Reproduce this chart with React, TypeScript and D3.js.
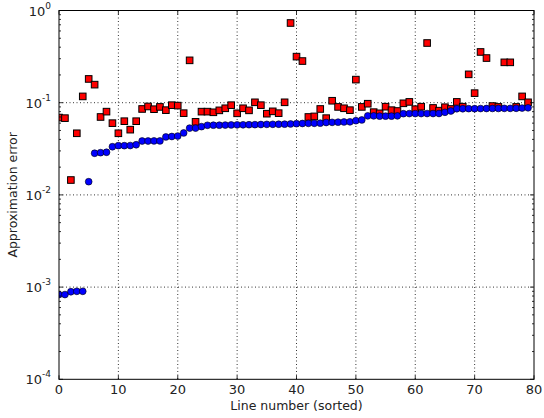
import React from "react";
import * as d3 from "d3";

const lineIndex: number[] = Array.from({ length: 80 }, (_, i) => i);

const sortedError: number[] = [
  0.00083, 0.00083, 0.00089, 0.0009, 0.0009, 0.0139, 0.0283, 0.0287, 0.029, 0.0333,
  0.0342, 0.0342, 0.0343, 0.035, 0.0384, 0.0384, 0.0385, 0.0385, 0.0425, 0.043,
  0.0435, 0.047, 0.053, 0.053, 0.055, 0.0569, 0.057, 0.057, 0.0572, 0.0574,
  0.0575, 0.0576, 0.0577, 0.0578, 0.058, 0.0582, 0.0583, 0.0584, 0.0585, 0.0588,
  0.0592, 0.0595, 0.0597, 0.0598, 0.06, 0.061, 0.0612, 0.0615, 0.0618, 0.062,
  0.0638, 0.065, 0.072, 0.072, 0.0715, 0.0715, 0.0715, 0.072, 0.076, 0.0762,
  0.0762, 0.0762, 0.0763, 0.0763, 0.0764, 0.0787, 0.0813, 0.086, 0.086, 0.0862,
  0.0862, 0.0864, 0.0865, 0.0866, 0.0866, 0.0868, 0.0868, 0.087, 0.0875, 0.088,
];

const otherError: number[] = [
  0.069, 0.068, 0.0145, 0.0466, 0.117, 0.181, 0.157, 0.07, 0.08, 0.06,
  0.0466, 0.063, 0.051, 0.063, 0.0855, 0.091, 0.085, 0.09, 0.083, 0.094,
  0.093, 0.077, 0.288, 0.062, 0.08, 0.08, 0.0787, 0.0826, 0.087, 0.094,
  0.0767, 0.087, 0.0826, 0.101, 0.094, 0.076, 0.0806, 0.077, 0.101, 0.732,
  0.316, 0.283, 0.07, 0.071, 0.0855, 0.068, 0.105, 0.09, 0.087, 0.083,
  0.178, 0.09, 0.0975, 0.079, 0.0767, 0.0905, 0.083, 0.0813, 0.0985, 0.102,
  0.085, 0.0905, 0.444, 0.0877, 0.082, 0.0893, 0.0855, 0.102, 0.0905, 0.203,
  0.127, 0.355, 0.305, 0.092, 0.09, 0.274, 0.274, 0.09, 0.117, 0.101,
];

const xTicks: number[] = [0, 10, 20, 30, 40, 50, 60, 70, 80];
const yTickExps: number[] = [-4, -3, -2, -1, 0];

const W = 544;
const H = 418;
const L = 59;
const R = 534;
const T = 10.5;
const B = 379.3;

export default function App() {
  const x = d3.scaleLinear().domain([0, 80]).range([L, R]);
  const y = d3.scaleLog().domain([1e-4, 1]).range([B, T]);
  const minor: number[] = [];
  for (let e = -4; e < 0; e++) {
    for (let m = 2; m <= 9; m++) minor.push(m * Math.pow(10, e));
  }
  const font = "DejaVu Sans, sans-serif";
  const sq = 6.6;
  return (
    <svg
      width={W}
      height={H}
      style={{ position: "absolute", left: 0, top: 0, background: "#fff" }}
      fontFamily={font}
    >
      <defs>
        <clipPath id="plot">
          <rect x={L} y={T} width={R - L} height={B - T} />
        </clipPath>
      </defs>
      <rect width={W} height={H} fill="#fff" />
      {/* grid */}
      <g stroke="#000" strokeWidth={0.8} strokeDasharray="1,2.5">
        {xTicks.slice(1, -1).map((t) => (
          <line key={"gx" + t} x1={x(t)} x2={x(t)} y1={T} y2={B} />
        ))}
        {yTickExps.slice(1, -1).map((e) => (
          <line key={"gy" + e} x1={L} x2={R} y1={y(Math.pow(10, e))} y2={y(Math.pow(10, e))} />
        ))}
      </g>
      {/* markers */}
      <g clipPath="url(#plot)">
        {lineIndex.map((i) => (
          <rect
            key={"r" + i}
            x={x(i) - sq / 2}
            y={y(otherError[i]) - sq / 2}
            width={sq}
            height={sq}
            fill="#ff0000"
            stroke="#000"
            strokeWidth={1}
          />
        ))}
        {lineIndex.map((i) => (
          <circle
            key={"b" + i}
            cx={x(i)}
            cy={y(sortedError[i])}
            r={3.4}
            fill="#0000ff"
            stroke="#000"
            strokeWidth={0.6}
          />
        ))}
      </g>
      {/* ticks */}
      <g stroke="#000" strokeWidth={0.8}>
        {xTicks.map((t) => (
          <g key={"tx" + t}>
            <line x1={x(t)} x2={x(t)} y1={B} y2={B - 4} />
            <line x1={x(t)} x2={x(t)} y1={T} y2={T + 4} />
          </g>
        ))}
        {yTickExps.map((e) => (
          <g key={"ty" + e}>
            <line x1={L} x2={L + 4} y1={y(Math.pow(10, e))} y2={y(Math.pow(10, e))} />
            <line x1={R} x2={R - 4} y1={y(Math.pow(10, e))} y2={y(Math.pow(10, e))} />
          </g>
        ))}
        {minor.map((v, k) => (
          <g key={"my" + k}>
            <line x1={L} x2={L + 2} y1={y(v)} y2={y(v)} />
            <line x1={R} x2={R - 2} y1={y(v)} y2={y(v)} />
          </g>
        ))}
      </g>
      <rect x={L} y={T} width={R - L} height={B - T} fill="none" stroke="#000" strokeWidth={1} />
      {/* tick labels */}
      <g fontSize={13} fill="#222">
        {xTicks.map((t) => (
          <text key={"lx" + t} x={x(t)} y={B + 15} textAnchor="middle">
            {t}
          </text>
        ))}
        {yTickExps.map((e) => (
          <text key={"ly" + e} x={L - 8} y={y(Math.pow(10, e)) + 5} textAnchor="end">
            10<tspan fontSize={9} dy={-7}>{e}</tspan>
          </text>
        ))}
      </g>
      <text x={(L + R) / 2} y={410} textAnchor="middle" fontSize={12.5} fill="#222">
        Line number (sorted)
      </text>
      <text
        transform={`translate(17,${(T + B) / 2}) rotate(-90)`}
        textAnchor="middle"
        fontSize={12.5}
        fill="#222"
      >
        Approximation error
      </text>
    </svg>
  );
}
